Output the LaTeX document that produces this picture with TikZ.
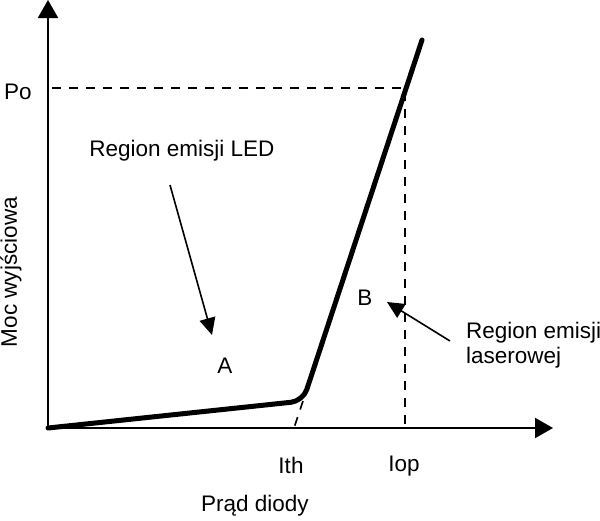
\documentclass[tikz,border=0pt]{standalone}
\usepackage{fontspec}
\setmainfont{Liberation Sans}
\usetikzlibrary{arrows.meta}

\begin{document}
\begin{tikzpicture}[x=1pt, y=-1pt, every node/.style={inner sep=0pt, font=\fontsize{22.5}{25}\selectfont},
    axis/.style={line width=2pt, -{Triangle[length=18pt, width=20pt]}},
    guide/.style={line width=1.6pt, dash pattern=on 9pt off 8pt},
    pointer/.style={line width=1.6pt, -{Triangle[length=17pt, width=16pt]}}]
        \useasboundingbox (0,0) rectangle (600,520);
        \coordinate (o) at (48,428);
        \coordinate (knee) at (303,401);
        \coordinate (top) at (422,40);
        \coordinate (ith) at (294,428);
        \coordinate (iop) at (405,428);
        \coordinate (po) at (405,88);
        \coordinate (yl) at (52,88);
        \coordinate (yend) at (48,0);
        \coordinate (xend) at (553,428);
        \draw[axis] (o)--(yend);
        \draw[axis] (o)--(xend);
        \draw[guide] (yl)--(po)--(iop);
        \draw[guide] (knee)--(ith);
        \draw[line width=5pt, rounded corners=12pt, line cap=round] (o)--(knee)--(top);
        \node (lpo) at (18,92) {Po};
        \node (led) at (182,151) {Region emisji LED};
        \node (a) at (225,366) {A};
        \node (b) at (365,298) {B};
        \node[align=left, anchor=west] (las) at (466,345) {Region emisji\\laserowej};
        \node (lith) at (291,465) {Ith};
        \node (liop) at (404,466) {Iop};
        \node (lx) at (255,506) {Prąd diody};
        \node[rotate=90] (ly) at (11,272) {Moc wyjściowa};
        \coordinate (ledtail) at (170,185);
        \coordinate (ledtip) at (212,335);
        \coordinate (lastail) at (450,341);
        \coordinate (lastip) at (387,302);
        \draw[pointer] (ledtail)--(ledtip);
        \draw[pointer] (lastail)--(lastip);
    \end{tikzpicture}
\end{document}
